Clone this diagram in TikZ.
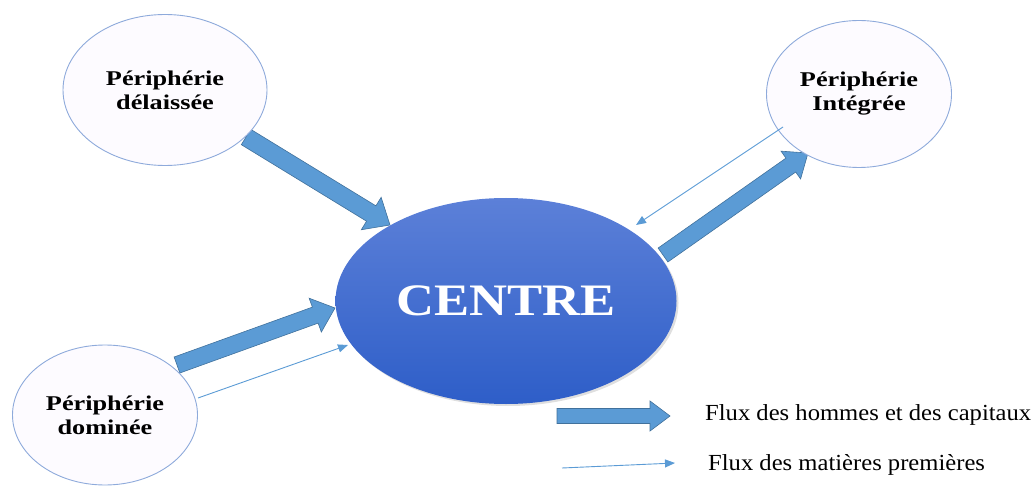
\documentclass[tikz,border=0pt]{standalone}
\usepackage{fontspec}
\setmainfont{Liberation Serif}
\usetikzlibrary{shapes.geometric,arrows.meta,calc,shadows}
\definecolor{arrowfill}{HTML}{5B9BD5}
\definecolor{arrowline}{HTML}{41719C}
\definecolor{ringline}{HTML}{8EAADB}
\definecolor{ringfill}{HTML}{FDFBFF}
\definecolor{ctop}{HTML}{5C80D8}
\definecolor{cbot}{HTML}{2E5EC8}
\tikzset{
  periph/.style={ellipse, draw=ringline, line width=0.9pt, fill=ringfill, inner sep=0pt, align=center,
    font=\fontsize{21}{24}\selectfont\bfseries},
  centrenode/.style={ellipse, inner sep=0pt, top color=ctop, bottom color=cbot, draw=none,
    drop shadow={opacity=0.25, shadow xshift=2pt, shadow yshift=-2pt},
    text=white, font=\fontsize{45}{50}\selectfont\bfseries},
  fatstyle/.style={fill=arrowfill, draw=arrowline, line width=0.6pt, line join=miter},
  thinflow/.style={draw=arrowfill, line width=0.9pt, -{Triangle[length=10pt,width=8pt]}},
  legendtext/.style={anchor=west, inner sep=0pt, font=\fontsize{23}{26}\selectfont}
}
\newcommand\fatarrow[5]{%
  \path ($(#2)!#5!(#1)$) coordinate (fa-n);
  \filldraw[fatstyle] ($(#1)!#3!90:(#2)$) -- ($(fa-n)!#3!90:(#2)$) -- ($(fa-n)!#4!90:(#2)$) -- (#2)
    -- ($(fa-n)!#4!-90:(#2)$) -- ($(fa-n)!#3!-90:(#2)$) -- ($(#1)!#3!-90:(#2)$) -- cycle;
}
\begin{document}
\begin{tikzpicture}[x=1pt,y=-1pt]
\useasboundingbox (0,0) rectangle (1035,486);

% thick arrows (under the ellipses)
\coordinate (t1) at (246,137); \coordinate (h1) at (390,225);
\coordinate (t2) at (663,255); \coordinate (h2) at (808,153);
\coordinate (t3) at (177,365); \coordinate (h3) at (335,308);
\fatarrow{t1}{h1}{9pt}{19pt}{22pt}
\fatarrow{t2}{h2}{8.5pt}{17pt}{21pt}
\fatarrow{t3}{h3}{8.5pt}{18pt}{21pt}

\node[periph, minimum width=204pt, minimum height=151pt] (del) at (165,90)
  {\scalebox{1.25}[1]{Périphérie}\\\scalebox{1.25}[1]{délaissée}};
\node[periph, minimum width=185pt, minimum height=147pt] (int) at (859,94)
  {\scalebox{1.25}[1]{Périphérie}\\\scalebox{1.25}[1]{Intégrée}};
\node[periph, minimum width=185pt, minimum height=140pt] (dom) at (105,415)
  {\scalebox{1.25}[1]{Périphérie}\\\scalebox{1.25}[1]{dominée}};
\node[centrenode, minimum width=341pt, minimum height=206pt] (centre) at (506,301)
  {\scalebox{1.17}[1]{CENTRE}};

% thin arrows
\coordinate (a1) at (783,127); \coordinate (b1) at (636,225);
\coordinate (a2) at (198,398); \coordinate (b2) at (348,345);
\draw[thinflow] (a1) -- (b1);
\draw[thinflow] (a2) -- (b2);

% legend
\coordinate (lt) at (557,416); \coordinate (lh) at (670,416);
\fatarrow{lt}{lh}{7.5pt}{15pt}{20pt}
\node[legendtext] (l1) at (705,415) {\scalebox{1.07}[1]{Flux des hommes et des capitaux}};
\coordinate (la) at (562,468); \coordinate (lb) at (675,463);
\draw[thinflow] (la) -- (lb);
\node[legendtext] (l2) at (708,465) {\scalebox{1.07}[1]{Flux des matières premières}};
\end{tikzpicture}
\end{document}
